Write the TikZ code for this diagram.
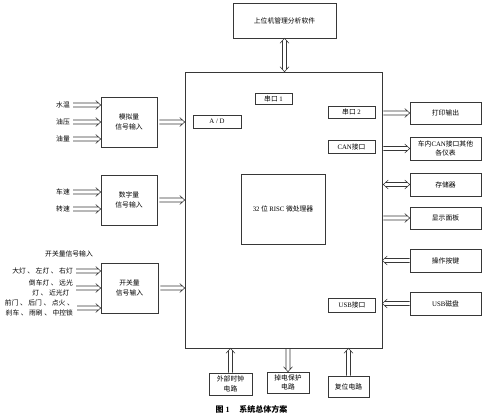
\documentclass[tikz,border=0pt]{standalone}
\usepackage{fontspec}
\setmainfont{Liberation Serif}
\newfontfamily\cjk{Noto Sans CJK SC}
\usepackage{tikz}
\usetikzlibrary{calc}
\definecolor{LineGray}{RGB}{55,55,55}
\newcommand{\ltn}[1]{{\rmfamily #1}}

\begin{document}
\begin{tikzpicture}[x=1pt, y=1pt,
          blk/.style={draw=LineGray, line width=0.6pt, inner sep=1pt, align=center,
                      font=\cjk\fontsize{6.8}{9.5}\selectfont},
          port/.style={blk, minimum width=47pt, minimum height=12pt},
          outbox/.style={blk, minimum width=71pt, minimum height=23pt},
          inbox/.style={blk, minimum width=56pt, minimum height=50pt},
          lbl/.style={inner sep=1pt, align=center, font=\cjk\fontsize{6.8}{9.5}\selectfont},
          % hollow block arrow, head at the target
          harr/.style={draw=LineGray, line width=0.55pt, to path={
              let \p1=(\tikztostart), \p2=(\tikztotarget),
                  \n1={atan2(\y2-\y1,\x2-\x1)} in
              ($(\p1)+(\n1+90:2pt)$) -- ($(\p2)+(\n1+180:2.2pt)+(\n1+90:2pt)$)
              ($(\p2)+(\n1+180:5pt)+(\n1+90:4.5pt)$) -- (\p2)
                -- ($(\p2)+(\n1+180:5pt)+(\n1-90:4.5pt)$)
              ($(\p2)+(\n1+180:2.2pt)+(\n1-90:2pt)$) -- ($(\p1)+(\n1-90:2pt)$)}},
          % hollow block arrow, heads at both ends
          harr2/.style={draw=LineGray, line width=0.55pt, to path={
              let \p1=(\tikztostart), \p2=(\tikztotarget),
                  \n1={atan2(\y2-\y1,\x2-\x1)} in
              ($(\p1)+(\n1:2.2pt)+(\n1+90:2pt)$) -- ($(\p2)+(\n1+180:2.2pt)+(\n1+90:2pt)$)
              ($(\p2)+(\n1+180:5pt)+(\n1+90:4.5pt)$) -- (\p2)
                -- ($(\p2)+(\n1+180:5pt)+(\n1-90:4.5pt)$)
              ($(\p2)+(\n1+180:2.2pt)+(\n1-90:2pt)$) -- ($(\p1)+(\n1:2.2pt)+(\n1-90:2pt)$)
              ($(\p1)+(\n1:5pt)+(\n1+90:4.5pt)$) -- (\p1)
                -- ($(\p1)+(\n1:5pt)+(\n1-90:4.5pt)$)}}
        ]
        \useasboundingbox (0,0) rectangle (497,-418);

        \node[blk, minimum width=103pt, minimum height=35pt] (pc) at (284.5,-20.5) {上位机管理分析软件};
        \node[blk, minimum width=197pt, minimum height=276pt] (mcu) at (283.5,-210) {};
        \node[port, minimum width=37pt, minimum height=11pt] (ser1) at (273.5,-98.5) {串口 \ltn{1}};
        \node[port, minimum width=48pt, minimum height=13pt] (ad) at (217,-121.5) {\ltn{A / D}};
        \node[port] (ser2) at (351.5,-112) {串口 \ltn{2}};
        \node[port, minimum height=13pt] (can) at (351.5,-146.5) {\ltn{CAN}接口};
        \node[blk, minimum width=84pt, minimum height=70pt] (cpu) at (283,-209) {\ltn{32} 位 \ltn{RISC} 微处理器};
        \node[port, minimum height=14pt] (usb) at (352,-305) {\ltn{USB}接口};

        % peripherals
        \node[outbox, minimum height=22pt] (prn)  at (445.5,-113)   {打印输出};
        \node[outbox] (canx) at (445.5,-148.5) {车内\ltn{CAN}接口其他\\各仪表};
        \node[outbox] (mem)  at (445.5,-184.5) {存储器};
        \node[outbox, minimum height=22pt] (disp) at (445.5,-218)   {显示面板};
        \node[outbox] (keys) at (445.5,-260.5) {操作按键};
        \node[outbox] (udisk) at (445.5,-303.5) {\ltn{USB}磁盘};

        % inputs
        \node[inbox] (ana) at (129,-122)   {模拟量\\信号输入};
        \node[inbox] (dig) at (129,-200)   {数字量\\信号输入};
        \node[inbox, minimum width=57pt] (swi) at (129.5,-288) {开关量\\信号输入};

        \node[lbl, anchor=east] (wtemp) at (71,-105) {水温};
        \node[lbl, anchor=east] (opres) at (71,-122) {油压};
        \node[lbl, anchor=east] (fuel)  at (71,-139) {油量};
        \node[lbl, anchor=east] (speed) at (71,-192) {车速};
        \node[lbl, anchor=east] (rpm)   at (71,-209) {转速};
        \node[lbl] (swhead) at (69,-254) {开关量信号输入};
        \node[lbl, anchor=east] (lamps) at (74,-271) {大灯 、 左灯 、 右灯};
        \node[lbl, anchor=east] (beams) at (74,-288) {倒车灯 、 远光\\灯 、 近光灯};
        \node[lbl, anchor=east] (doors) at (75,-308) {前门 、 后门 、 点火 、\\刹车 、 雨刷 、 中控锁};

        % support circuits
        \node[blk, minimum width=43pt, minimum height=22pt] (clk) at (230.5,-384) {外部时钟\\电路};
        \node[blk, minimum width=42pt, minimum height=21pt] (pwr) at (288,-382.5) {掉电保护\\电路};
        \node[blk, minimum width=41pt, minimum height=21pt] (rst) at (348.5,-386.5) {复位电路};

        \node[lbl, font=\cjk\bfseries\fontsize{8}{9}\selectfont] (cap) at (251.5,-409) {图 \ltn{1}\quad\ 系统总体方案};

        % arrows
        \draw[harr2] (pc.south) to (pc.south |- mcu.north);
        \draw[harr] ([xshift=2pt]wtemp.east) to (wtemp.east -| ana.west);
        \draw[harr] ([xshift=2pt]opres.east) to (opres.east -| ana.west);
        \draw[harr] ([xshift=2pt]fuel.east)  to (fuel.east -| ana.west);
        \draw[harr] ([xshift=2pt]speed.east) to (speed.east -| dig.west);
        \draw[harr] ([xshift=2pt]rpm.east)   to (rpm.east -| dig.west);
        \draw[harr] ([xshift=2pt]lamps.east) to (lamps.east -| swi.west);
        \draw[harr] ([xshift=2pt]beams.east) to (beams.east -| swi.west);
        \draw[harr] ([xshift=2pt]doors.east) to (doors.east -| swi.west);
        \draw[harr] ([xshift=2pt]ana.east) to (ana.east -| mcu.west);
        \draw[harr] ([xshift=2pt]dig.east) to (dig.east -| mcu.west);
        \draw[harr] ([xshift=2pt]swi.east) to (swi.east -| mcu.west);

        \draw[harr]  ([xshift=1pt]prn.west -| mcu.east)  to (prn.west);
        \draw[harr]  ([xshift=1pt]canx.west -| mcu.east) to (canx.west);
        \draw[harr2] ([xshift=1pt]mem.west -| mcu.east)  to (mem.west);
        \draw[harr]  ([xshift=1pt]disp.west -| mcu.east) to (disp.west);
        \draw[harr]  (keys.west)  to (keys.west -| mcu.east);
        \draw[harr]  (udisk.west) to (udisk.west -| mcu.east);

        \draw[harr] (clk.north) to (clk.north |- mcu.south);
        \draw[harr] (pwr.north |- mcu.south) to (pwr.north);
        \draw[harr] (rst.north) to (rst.north |- mcu.south);
      \end{tikzpicture}
\end{document}
